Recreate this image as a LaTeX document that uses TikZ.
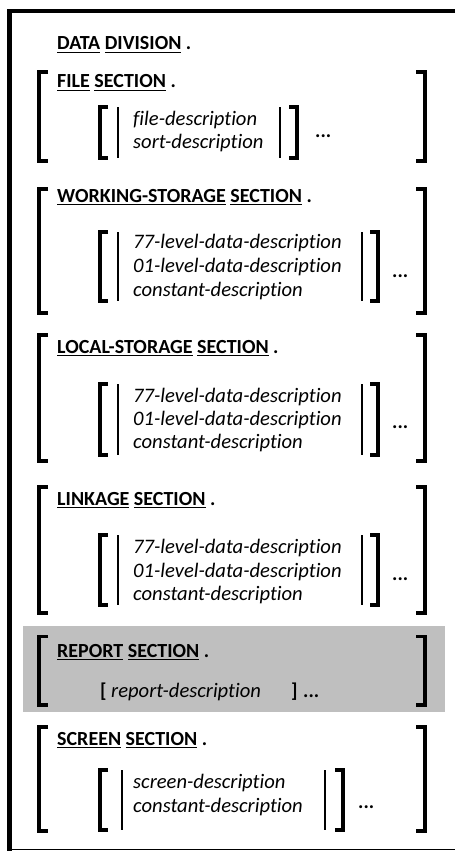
\documentclass[tikz,border=0pt]{standalone}
\usepackage{fontspec}
\setmainfont{Carlito}[Ligatures=CommonOff]
\usetikzlibrary{positioning}
\definecolor{RGray}{HTML}{BFBFBF}
\newcommand{\ukw}[1]{\setbox0\hbox{\bfseries #1}\rlap{\rule[-3pt]{\wd0}{1.5pt}}\box0\relax}

\begin{document}
\begin{tikzpicture}[x=1pt, y=-1pt,
    head/.style={anchor=base west, inner sep=0pt, font=\fontsize{20}{24}\selectfont},
    desc/.style={anchor=base west, inner sep=0pt, font=\fontsize{20.6}{24}\selectfont\itshape},
    dots/.style={anchor=base west, inner sep=0pt, font=\fontsize{20}{24}\selectfont\bfseries},
    brk/.style={line width=3.6pt},
    bar/.style={line width=1.3pt}]
    \useasboundingbox (0,0) rectangle (455,851);

    % Frame
    \draw[line width=4.5pt] (455,11) -- (9.5,11) -- (9.5,851);
    \draw[line width=1pt] (9.5,849.5) -- (455,849.5);

    % Report section shading
    \fill[RGray] (23,626) rectangle (445,712);

    % --- Outer brackets, one pair per section ---
    \foreach \t/\b in {72/161, 189/313, 335/461, 487/613, 636.5/705, 727/831} {
        \draw[brk] (48,\t) -- (39,\t) -- (39,\b) -- (48,\b);
        \draw[brk] (416,\t) -- (425,\t) -- (425,\b) -- (416,\b);
    }

    % --- Inner brackets and bars ---
    % right bar x / right bracket x / top / bottom
    \foreach \r/\rb/\t/\b in {280/297/107/158, 362/378/232/301, 362/378/384/455, 362/378/535/605} {
        \draw[brk] (108,\t) -- (100,\t) -- (100,\b) -- (108,\b);
        \draw[brk] (\rb-8,\t) -- (\rb,\t) -- (\rb,\b) -- (\rb-8,\b);
        \draw[bar] (118,\t) -- (118,\b);
        \draw[bar] (\r,\t) -- (\r,\b);
    }
    % Screen section
    \draw[brk] (108,770) -- (100,770) -- (100,830) -- (108,830);
    \draw[brk] (335,770) -- (343,770) -- (343,830) -- (335,830);
    \draw[bar] (122,770) -- (122,830);
    \draw[bar] (325,770) -- (325,830);

    % --- Division header ---
    \node[head] (datadiv) at (57,50) {\ukw{DATA} \ukw{DIVISION} \textbf{.}};

    % File section
    \node[head] (filesec) at (57,88) {\ukw{FILE} \ukw{SECTION} \textbf{.}};
    \node[desc] (filedesc) at (133,125) {file-description};
    \node[desc] (sortdesc) at (133,148) {sort-description};
    \node[dots] (filedots) at (315,137) {...};

    % Working-storage section
    \node[head] (wssec) at (57,202) {\ukw{WORKING-STORAGE} \ukw{SECTION} \textbf{.}};
    \node[desc] (ws77) at (133,248) {77-level-data-description};
    \node[desc] (ws01) at (133,272) {01-level-data-description};
    \node[desc] (wscon) at (133,296) {constant-description};
    \node[dots] (wsdots) at (392,277) {...};

    % Local-storage section
    \node[head] (lssec) at (57,353) {\ukw{LOCAL-STORAGE} \ukw{SECTION} \textbf{.}};
    \node[desc] (ls77) at (133,402) {77-level-data-description};
    \node[desc] (ls01) at (133,425) {01-level-data-description};
    \node[desc] (lscon) at (133,448) {constant-description};
    \node[dots] (lsdots) at (392,428) {...};

    % Linkage section
    \node[head] (lksec) at (57,505) {\ukw{LINKAGE} \ukw{SECTION} \textbf{.}};
    \node[desc] (lk77) at (133,553) {77-level-data-description};
    \node[desc] (lk01) at (133,577) {01-level-data-description};
    \node[desc] (lkcon) at (133,600) {constant-description};
    \node[dots] (lkdots) at (392,580) {...};

    % Report section
    \node[head] (rptsec) at (57,657) {\ukw{REPORT} \ukw{SECTION} \textbf{.}};
    \node[dots] (rptl) at (100,697) {[};
    \node[desc] (rptdesc) at (111,697) {report-description};
    \node[dots] (rptr) at (291,697) {]};
    \node[dots] (rptdots) at (303,697) {...};

    % Screen section
    \node[head] (scrsec) at (57,745) {\ukw{SCREEN} \ukw{SECTION} \textbf{.}};
    \node[desc] (scrdesc) at (133,788) {screen-description};
    \node[desc] (scrcon) at (133,812) {constant-description};
    \node[dots] (scrdots) at (358,808) {...};
\end{tikzpicture}
\end{document}
